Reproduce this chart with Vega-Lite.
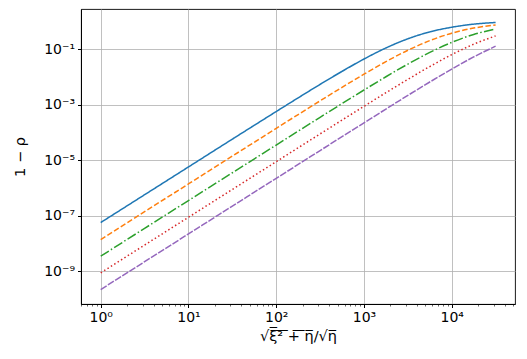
{
  "$schema": "https://vega.github.io/schema/vega-lite/v6.json",
  "width": 434,
  "height": 295,
  "autosize": {"type": "none"},
  "padding": {"left": 81, "top": 9, "right": 12, "bottom": 55},
  "background": "white",
  "config": {
    "view": {"stroke": "#000", "strokeWidth": 0.9},
    "font": "DejaVu Sans",
    "axis": {
      "labelFont": "DejaVu Sans",
      "titleFont": "DejaVu Sans",
      "labelFontSize": 14,
      "titleFontSize": 14.5,
      "labelColor": "#000",
      "titleColor": "#000",
      "titleFontWeight": "normal",
      "domainColor": "#000",
      "tickColor": "#000",
      "gridColor": "#b0b0b0",
      "gridWidth": 0.8
    }
  },
  "data": {
    "values": [
      {"x": 1, "a": 5.75e-8, "b": 1.41e-8, "c": 3.55e-9, "d": 8.91e-10, "e": 2.24e-10},
      {"x": 3.162, "a": 5.75e-7, "b": 1.41e-7, "c": 3.55e-8, "d": 8.91e-9, "e": 2.24e-9},
      {"x": 10, "a": 5.75e-6, "b": 1.41e-6, "c": 3.55e-7, "d": 8.91e-8, "e": 2.24e-8},
      {"x": 31.62, "a": 5.75e-5, "b": 1.41e-5, "c": 3.55e-6, "d": 8.91e-7, "e": 2.24e-7},
      {"x": 100, "a": 5.65e-4, "b": 1.40e-4, "c": 3.53e-5, "d": 8.89e-6, "e": 2.24e-6},
      {"x": 177.8, "a": 1.754e-3, "b": 4.40e-4, "c": 1.114e-4, "d": 2.81e-5, "e": 7.06e-6},
      {"x": 316.2, "a": 5.35e-3, "b": 1.368e-3, "c": 3.50e-4, "d": 8.85e-5, "e": 2.234e-5},
      {"x": 562.3, "a": 0.01574, "b": 4.19e-3, "c": 1.091e-3, "d": 2.786e-4, "e": 7.05e-5},
      {"x": 1000, "a": 0.04365, "b": 0.01247, "c": 3.357e-3, "d": 8.69e-4, "e": 2.213e-4},
      {"x": 1778, "a": 0.1091, "b": 0.03516, "c": 0.01007, "d": 2.685e-3, "e": 6.93e-4},
      {"x": 3162, "a": 0.2333, "b": 0.09016, "c": 0.02871, "d": 8.11e-3, "e": 2.148e-3},
      {"x": 5623, "a": 0.4140, "b": 0.2004, "c": 0.07534, "d": 0.02344, "e": 6.52e-3},
      {"x": 10000, "a": 0.6067, "b": 0.3707, "c": 0.1734, "d": 0.06281, "e": 0.01901},
      {"x": 17783, "a": 0.785, "b": 0.5662, "c": 0.3334, "d": 0.1486, "e": 0.05188},
      {"x": 31623, "a": 0.90, "b": 0.7328, "c": 0.5272, "d": 0.2972, "e": 0.1268}
    ]
  },
  "resolve": {"axis": {"x": "independent"}},
  "layer": [
    {
      "transform": [{"fold": ["a", "b", "c", "d", "e"], "as": ["series", "y"]}],
      "mark": {"type": "line", "strokeWidth": 1.5, "interpolate": "monotone", "clip": true},
      "encoding": {
        "x": {
          "field": "x", "type": "quantitative",
          "scale": {"type": "log", "domain": [0.596, 52600], "nice": false},
          "axis": {
            "orient": "bottom",
            "values": [1, 10, 100, 1000, 10000],
            "grid": true,
            "tickSize": 3.5,
            "labelPadding": 3,
            "labelExpr": "datum.value < 5 ? '10⁰' : datum.value < 50 ? '10¹' : datum.value < 500 ? '10²' : datum.value < 5000 ? '10³' : '10⁴'",
            "title": "√ξ̅²̅ ̅+̅ ̅η̅/√η̅",
            "titlePadding": 5
          }
        },
        "y": {
          "field": "y", "type": "quantitative",
          "scale": {"type": "log", "domain": [6.76e-11, 2.75], "nice": false},
          "axis": {
            "values": [1e-9, 1e-7, 1e-5, 1e-3, 1e-1],
            "grid": true,
            "tickSize": 3.5,
            "labelPadding": 3,
            "labelExpr": "datum.value < 1e-8 ? '10⁻⁹' : datum.value < 1e-6 ? '10⁻⁷' : datum.value < 1e-4 ? '10⁻⁵' : datum.value < 1e-2 ? '10⁻³' : '10⁻¹'",
            "title": "1 − ρ",
            "titlePadding": 16
          }
        },
        "color": {
          "field": "series", "type": "nominal", "legend": null,
          "scale": {"domain": ["a", "b", "c", "d", "e"], "range": ["#1f77b4", "#ff7f0e", "#2ca02c", "#d62728", "#9467bd"]}
        },
        "strokeDash": {
          "field": "series", "type": "nominal", "legend": null,
          "scale": {"domain": ["a", "b", "c", "d", "e"], "range": [[1, 0], [5.5, 2.4], [9.6, 2.4, 1.5, 2.4], [1.5, 2.5], [7, 1.5]]}
        }
      }
    },
    {
      "mark": {"type": "point", "opacity": 0},
      "encoding": {
        "x": {
          "field": "x", "type": "quantitative",
          "axis": {
            "orient": "bottom",
            "values": [0.6, 0.7, 0.8, 0.9, 2, 3, 4, 5, 6, 7, 8, 9, 20, 30, 40, 50, 60, 70, 80, 90, 200, 300, 400, 500, 600, 700, 800, 900, 2000, 3000, 4000, 5000, 6000, 7000, 8000, 9000, 20000, 30000, 40000, 50000],
            "grid": false,
            "labels": false,
            "domain": false,
            "tickSize": 2,
            "tickWidth": 0.6,
            "title": null
          }
        }
      }
    }
  ]
}
